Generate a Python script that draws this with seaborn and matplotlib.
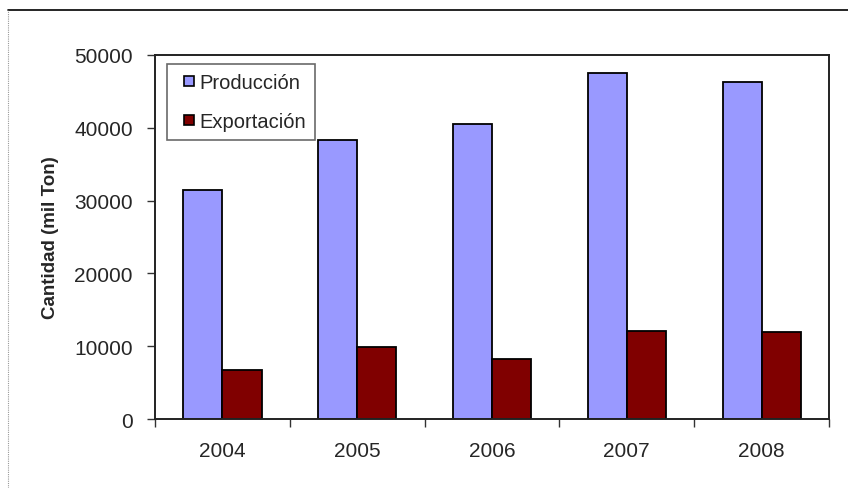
import matplotlib
matplotlib.use("Agg")
import matplotlib.pyplot as plt
import seaborn as sns
import pandas as pd
from matplotlib.lines import Line2D
from matplotlib.patches import Patch, Rectangle
from matplotlib.legend_handler import HandlerPatch

# Data (thousand tonnes)
years = ["2004", "2005", "2006", "2007", "2008"]
produccion = [31500, 38300, 40500, 47500, 46300]
exportacion = [6700, 9900, 8300, 12100, 12000]
series_names = ["Producción", "Exportación"]
series_colors = ["#9999FF", "#800000"]
y_ticks = [0, 10000, 20000, 30000, 40000, 50000]

df = pd.DataFrame({
    "Año": years * 2,
    "Cantidad": produccion + exportacion,
    "Serie": [series_names[0]] * len(years) + [series_names[1]] * len(years),
})


class SquareKey(HandlerPatch):
    """Small square legend key sitting at the right end of the handle box."""

    def create_artists(self, legend, orig_handle, xdescent, ydescent,
                       width, height, fontsize, trans):
        side = 0.5 * fontsize
        x0 = -xdescent + width - side
        y0 = -ydescent + (height - side) / 2
        sq = Rectangle((x0, y0), side, side,
                       facecolor=orig_handle.get_facecolor(),
                       edgecolor=orig_handle.get_edgecolor(),
                       linewidth=orig_handle.get_linewidth(), transform=trans)
        return [sq]


sns.set_style("white")
plt.rcParams["font.family"] = ["Liberation Sans", "DejaVu Sans"]

fig = plt.figure(figsize=(8.48, 4.89), dpi=100)
ax = fig.add_axes([0.1828, 0.1411, 0.7948, 0.7444])

sns.barplot(data=df, x="Año", y="Cantidad", hue="Serie", order=years,
            hue_order=series_names, palette=series_colors, width=0.58,
            edgecolor="black", linewidth=1.3, saturation=1, ax=ax,
            legend=False)

ax.set_xlim(-0.5, len(years) - 0.5)
ax.set_ylim(0, 50000)
ax.set_yticks(y_ticks)
ax.set_yticklabels([str(v) for v in y_ticks], fontsize=15)
ax.set_xticks(range(len(years)))
ax.set_xticklabels(years, fontsize=15)
ax.set_xticks([i - 0.5 for i in range(len(years) + 1)], minor=True)
ax.tick_params(axis="x", which="major", length=0, pad=15.5)
ax.tick_params(axis="x", which="minor", length=6, width=1, color="#333333",
               direction="out", bottom=True)
ax.tick_params(axis="y", length=6, width=1, color="#333333", direction="out",
               left=True, pad=10)

ax.set_xlabel("")
ax.set_ylabel("Cantidad (mil Ton)", fontsize=13.5, fontweight="bold", labelpad=11)

for side in ["top", "right", "left", "bottom"]:
    ax.spines[side].set_visible(True)
    ax.spines[side].set_color("#222222")
    ax.spines[side].set_linewidth(1.4)

handles = [Patch(facecolor=c, edgecolor="black", linewidth=1.2) for c in series_colors]
leg = ax.legend(handles, series_names, loc="upper left",
                bbox_to_anchor=(0.018, 0.975), fontsize=14.5, frameon=True,
                fancybox=False, shadow=False, handlelength=0.9,
                handleheight=0.6, handletextpad=0.25, labelspacing=1.0,
                borderpad=0.45, borderaxespad=0.0,
                handler_map={Patch: SquareKey()})
leg.get_frame().set_edgecolor("#444444")
leg.get_frame().set_linewidth(1.2)

# Outer frame of the chart area
fig.add_artist(Line2D([0.0094, 1.0], [1 - 11 / 489, 1 - 11 / 489],
                      transform=fig.transFigure, color="black", linewidth=1.2))
fig.add_artist(Line2D([0.0094, 0.0094], [0.0, 1 - 11 / 489],
                      transform=fig.transFigure, color="#999999",
                      linewidth=0.8, linestyle=(0, (1, 1))))

fig.savefig("out.png", dpi=100, facecolor="white")
